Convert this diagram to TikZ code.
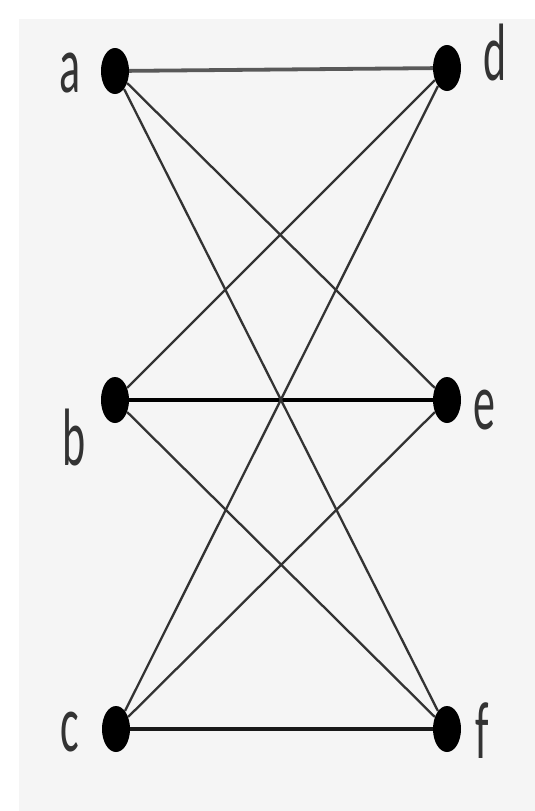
\documentclass[tikz,border=0pt]{standalone}
\usepackage{fontspec}
\setmainfont{Carlito}
\usetikzlibrary{shapes.geometric}
\begin{document}
\begin{tikzpicture}[x=1pt,y=-1pt,
  vdot/.style={ellipse, fill=black, minimum width=28pt, minimum height=46pt, inner sep=0pt},
  vlab/.style={inner sep=0pt, font=\fontsize{44}{44}\selectfont, text=black!80},
  hedge/.style={line width=3.8pt},
  xedge/.style={line width=2.3pt, draw=black!80}]
\useasboundingbox (0,0) rectangle (535,811);
\fill[white] (0,0) rectangle (535,811);
\fill[black!4] (19,19) rectangle (535,811);
\node[vdot] (a) at (115,71) {};
\node[vdot] (d) at (447,68) {};
\node[vdot] (b) at (115,400) {};
\node[vdot] (e) at (447,400) {};
\node[vdot] (c) at (116,729) {};
\node[vdot] (f) at (447,729) {};
\node[vlab] (la) at (70,73) {\scalebox{1}[1.85]{a}};
\node[vlab] (ld) at (495,53) {\scalebox{1}[1.85]{d}};
\node[vlab] (lb) at (74,438) {\scalebox{1}[1.85]{b}};
\node[vlab] (le) at (484,410) {\scalebox{1}[1.85]{e}};
\node[vlab] (lc) at (70,732) {\scalebox{1}[1.85]{c}};
\node[vlab] (lf) at (482,731) {\scalebox{1}[1.85]{f}};
\draw[hedge, draw=black!65] (a) -- (d);
\draw[hedge, draw=black] (b) -- (e);
\draw[hedge, draw=black!90] (c) -- (f);
\draw[xedge] (a) -- (e);
\draw[xedge] (a) -- (f);
\draw[xedge] (b) -- (d);
\draw[xedge] (b) -- (f);
\draw[xedge] (c) -- (d);
\draw[xedge] (c) -- (e);
\end{tikzpicture}
\end{document}
